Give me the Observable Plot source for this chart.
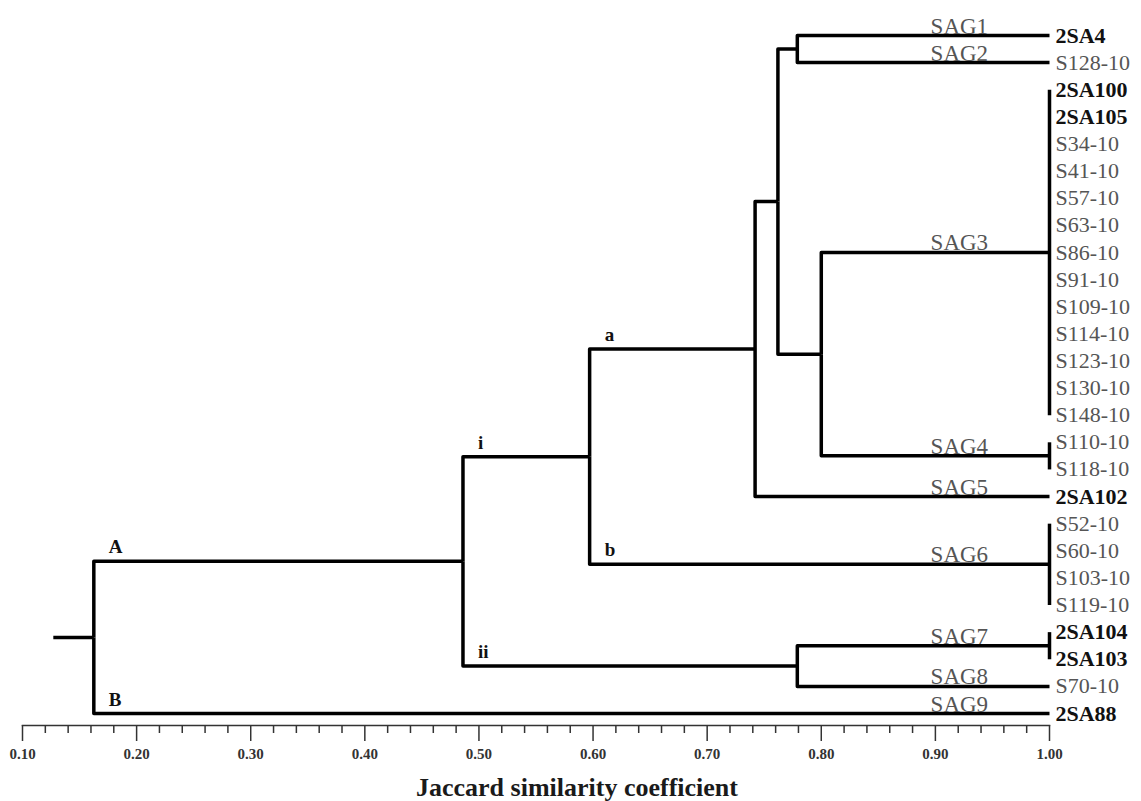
<!DOCTYPE html>
<html><head><meta charset="utf-8">
<script src="https://cdn.jsdelivr.net/npm/d3@7"></script>
<script src="https://cdn.jsdelivr.net/npm/@observablehq/plot@0.6"></script>
<style>
html,body{margin:0;padding:0;background:#fff;}
#chart svg{display:block;}
</style></head><body><div id="chart"></div>
<script>
// ---- data ----
const leaves = ["2SA4","S128-10","2SA100","2SA105","S34-10","S41-10","S57-10","S63-10","S86-10","S91-10","S109-10","S114-10","S123-10","S130-10","S148-10","S110-10","S118-10","2SA102","S52-10","S60-10","S103-10","S119-10","2SA104","2SA103","S70-10","2SA88"];
const boldLeaves = ["2SA4","2SA100","2SA105","2SA102","2SA104","2SA103","2SA88"];
const groupNames = ["SAG1","SAG2","SAG3","SAG4","SAG5","SAG6","SAG7","SAG8","SAG9"];
const groupSizes = [1,1,13,2,1,4,2,1,1];
const nodeNames = ["n12","n34","n1234","n5","nab","n78","nIII","root"];
const nodeLeft  = ["SAG1","SAG3","n12","n1234","n5","SAG7","nab","nIII"];
const nodeRight = ["SAG2","SAG4","n34","SAG5","SAG6","SAG8","n78","SAG9"];
const nodeSim   = [0.779,0.800,0.762,0.742,0.597,0.779,0.486,0.1625];
const rootStart = 0.127;
const branchLabels = ["A","B","i","ii","a","b"];
const branchChild  = ["nIII","SAG9","nab","n78","n5","SAG6"];
const majorTicks = [0.1,0.2,0.3,0.4,0.5,0.6,0.7,0.8,0.9,1.0];
const tickLabels = ["0.10","0.20","0.30","0.40","0.50","0.60","0.70","0.80","0.90","1.00"];
const axisTitle = "Jaccard similarity coefficient";

// ---- layout (dendrogram) ----
const pos = new Map();
let k = 0;
groupNames.forEach((g, i) => {
  const first = k, last = k + groupSizes[i] - 1;
  k += groupSizes[i];
  pos.set(g, {x: 1.0, y: (first + last) / 2, first, last, size: groupSizes[i]});
});
const parentOf = new Map();
nodeNames.forEach((n, i) => {
  const l = pos.get(nodeLeft[i]), r = pos.get(nodeRight[i]);
  pos.set(n, {x: nodeSim[i], y: (l.y + r.y) / 2});
  parentOf.set(nodeLeft[i], n); parentOf.set(nodeRight[i], n);
});
const pts = [];
nodeNames.forEach((n, i) => {
  const p = pos.get(n);
  [nodeLeft[i], nodeRight[i]].forEach(c => {
    const q = pos.get(c), id = n + "-" + c;
    pts.push({id, x: p.x, y: p.y}, {id, x: p.x, y: q.y}, {id, x: q.x, y: q.y});
  });
});
const root = pos.get("root");
pts.push({id: "stub", x: rootStart, y: root.y}, {id: "stub", x: root.x, y: root.y});
groupNames.forEach(g => {
  const q = pos.get(g);
  if (q.size > 1) pts.push({id: g + "bar", x: 1.0, y: q.first}, {id: g + "bar", x: 1.0, y: q.last});
});

const leafRows = leaves.map((name, i) => ({name, i, bold: boldLeaves.includes(name)}));
const groupRows = groupNames.map(g => ({name: g, y: pos.get(g).y}));
const branchRows = branchLabels.map((t, i) => ({t, x: pos.get(parentOf.get(branchChild[i])).x, y: pos.get(branchChild[i]).y}));
const minorTicks = [];
for (let i = 0; i < majorTicks.length - 1; i++) for (let j = 1; j < 5; j++) minorTicks.push(majorTicks[i] + (majorTicks[i+1] - majorTicks[i]) * j / 5);

const serif = "Liberation Serif, Times New Roman, serif";
const chart = Plot.plot({
  width: 1141, height: 801,
  marginLeft: 22, marginRight: 92, marginTop: 35, marginBottom: 76,
  insetBottom: 12,
  style: {fontFamily: serif, background: "#fff"},
  x: {domain: [0.1, 1.0], axis: null},
  y: {domain: [0, 25], reverse: true, axis: null},
  marks: [
    Plot.frame({anchor: "bottom", stroke: "#333", strokeWidth: 1.5}),
    Plot.axisX(minorTicks, {anchor: "bottom", tickSize: 8, tickFormat: () => "", stroke: "#333", strokeWidth: 1.5, label: null}),
    Plot.axisX(majorTicks, {anchor: "bottom", tickSize: 16, tickPadding: 7, tickFormat: d => tickLabels[majorTicks.indexOf(d)], stroke: "#333", strokeWidth: 1.5, fill: "#333", fontSize: 15, fontWeight: "bold", fontFamily: serif, label: null}),
    Plot.line(pts, {x: "x", y: "y", z: "id", stroke: "#000", strokeWidth: 3.5, strokeLinejoin: "round", strokeLinecap: "butt", curve: "linear"}),
    Plot.text(leafRows.filter(d => !d.bold), {x: () => 1.0, y: "i", text: "name", textAnchor: "start", dx: 6, fontSize: 22, fill: "#555", fontFamily: serif}),
    Plot.text(leafRows.filter(d => d.bold), {x: () => 1.0, y: "i", text: "name", textAnchor: "start", dx: 6, fontSize: 22, fontWeight: "bold", fill: "#111", fontFamily: serif}),
    Plot.text(groupRows, {x: () => 0.921, y: "y", text: "name", lineAnchor: "bottom", dy: -2, fontSize: 23, fill: "#555", fontFamily: serif}),
    Plot.text(branchRows, {x: "x", y: "y", text: "t", textAnchor: "start", lineAnchor: "bottom", dx: 15, dy: -8, fontSize: 19, fontWeight: "bold", fill: "#111", fontFamily: serif}),
    Plot.text([axisTitle], {frameAnchor: "bottom", dx: 41, dy: 70, lineAnchor: "bottom", fontSize: 26, fontWeight: "bold", fill: "#1a1a1a", fontFamily: serif})
  ]
});
document.getElementById("chart").append(chart);
</script></body></html>
